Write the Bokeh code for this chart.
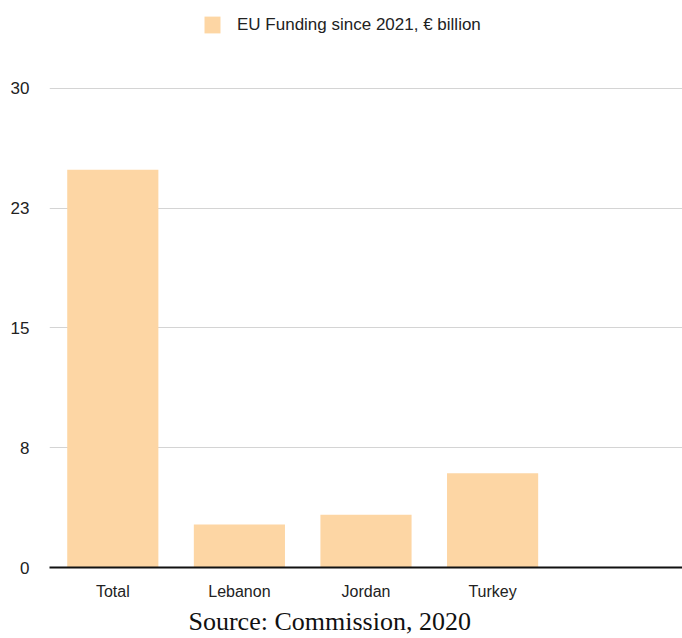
from bokeh.plotting import figure
from bokeh.models import FactorRange, Range1d, FixedTicker, Legend, LegendItem, Title, ColumnDataSource
from bokeh.embed import file_html
from bokeh.resources import INLINE

categories = ["Total", "Lebanon", "Jordan", "Turkey", " "]
values = [24.9, 2.7, 3.3, 5.9, 0]
tick_values = [0, 7.5, 15, 22.5, 30]
tick_labels = ["0", "8", "15", "23", "30"]
series_name = "EU Funding since 2021, € billion"
source_note = "Source: Commission, 2020"

SANS = "'Liberation Sans', Arial, sans-serif"
SERIF = "'Liberation Serif', 'Times New Roman', serif"
BAR = "#fdd6a4"

src = ColumnDataSource(dict(cat=categories, val=values))

# the frame reaches the top of the page; the space above 30 holds the legend
p = figure(width=682, height=638, x_range=FactorRange(*categories), y_range=Range1d(0, 35.5),
           output_backend="svg", toolbar_location=None,
           min_border_left=49, min_border_right=0, min_border_top=0, min_border_bottom=71)
p.outline_line_color = None
p.background_fill_color = "white"
p.border_fill_color = "white"

r = p.vbar(x="cat", top="val", width=0.72, source=src, fill_color=BAR, line_color=None)

# axes
p.yaxis.ticker = FixedTicker(ticks=tick_values)
p.yaxis.major_label_overrides = {v: l for v, l in zip(tick_values, tick_labels)}
p.yaxis.axis_line_color = None
p.yaxis.major_tick_line_color = None
p.yaxis.minor_tick_line_color = None
p.yaxis.major_label_standoff = 14
p.yaxis.major_label_text_font = SANS
p.yaxis.major_label_text_font_size = "17px"
p.yaxis.major_label_text_color = "#222222"

p.xaxis.axis_line_color = "#111111"
p.xaxis.axis_line_width = 2
p.xaxis.major_tick_line_color = None
p.xaxis.minor_tick_line_color = None
p.xaxis.major_label_standoff = 9
p.xaxis.major_label_text_font = SANS
p.xaxis.major_label_text_font_size = "16px"
p.xaxis.major_label_text_color = "#222222"

p.xgrid.grid_line_color = None
p.ygrid.ticker = FixedTicker(ticks=tick_values)
p.ygrid.grid_line_color = "#d4d4d4"
p.ygrid.grid_line_width = 1

p.x_range.range_padding = 0
p.x_range.group_padding = 0

# legend at the top (screen units from the frame's bottom-left)
legend = Legend(items=[LegendItem(label=series_name, renderers=[r])], location=(153, 532),
                orientation="horizontal", border_line_color=None, background_fill_alpha=0,
                glyph_width=20, glyph_height=21, label_standoff=15, padding=0, margin=0,
                label_text_font=SANS, label_text_font_size="17px", label_text_color="#222222")
p.add_layout(legend, "center")

# source note
p.add_layout(Title(text=source_note, align="left", offset=139, text_font=SERIF, text_font_size="26px",
                   text_font_style="normal", text_color="#111111", standoff=5), "below")

open("out.html", "w").write(file_html(p, INLINE))
